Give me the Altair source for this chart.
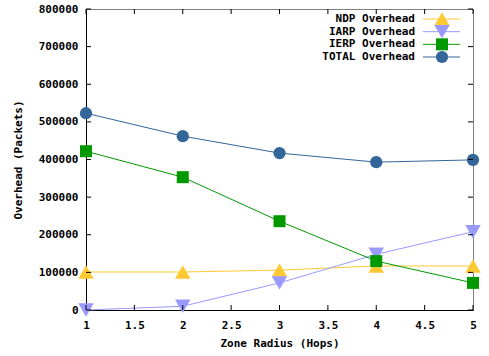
import altair as alt
import pandas as pd

radius = [1, 2, 3, 4, 5]
ndp = [101000, 101000, 106000, 117000, 117000]
iarp = [0, 10000, 72000, 148000, 208000]
ierp = [422000, 353000, 236000, 130000, 72000]
total = [523000, 462000, 417000, 393000, 399000]

series_names = ["NDP Overhead", "IARP Overhead", "IERP Overhead", "TOTAL Overhead"]
colors = ["#ffc933", "#9999ff", "#009900", "#336699"]
shapes = ["triangle-up", "triangle-down", "square", "circle"]
sizes = [240, 240, 144, 150]

x_ticks = [1, 1.5, 2, 2.5, 3, 3.5, 4, 4.5, 5]
y_ticks = [0, 100000, 200000, 300000, 400000, 500000, 600000, 700000, 800000]

W, H = 387, 301
FONT = "DejaVu Sans Mono"

rows = []
for name, vals in zip(series_names, [ndp, iarp, ierp, total]):
    for r, v in zip(radius, vals):
        rows.append({"series": name, "radius": r, "value": v})
df = pd.DataFrame(rows)
leg = pd.DataFrame({"series": series_names, "rank": list(range(len(series_names)))})
xt = pd.DataFrame({"xt": x_ticks})
yt = pd.DataFrame({"yt": y_ticks})

color = alt.Color("series:N", scale=alt.Scale(domain=series_names, range=colors), legend=None)
shape = alt.Shape("series:N", scale=alt.Scale(domain=series_names, range=shapes), legend=None)
size = alt.Size("series:N", scale=alt.Scale(type="ordinal", domain=series_names, range=sizes),
                legend=None)

xs = alt.Scale(domain=[1, 5], nice=False, zero=False)
ys = alt.Scale(domain=[0, 800000], nice=False)

xaxis = alt.Axis(values=x_ticks, format="~g", title="Zone Radius (Hops)", grid=False,
                 ticks=False, labelPadding=9, domainColor="#000000", domainWidth=1,
                 labelOverlap=False, labelFlush=False,
                 titleX=W / 2, titleY=33, titleBaseline="middle", titleAlign="center")
yaxis = alt.Axis(values=y_ticks, format="d", title="Overhead (Packets)", grid=False,
                 ticks=False, labelPadding=8, domainColor="#000000", domainWidth=1,
                 labelOverlap=False, labelFlush=False,
                 titleX=-68, titleY=H / 2, titleAngle=270, titleBaseline="middle",
                 titleAlign="center")

base = alt.Chart(df)
lines = base.mark_line(strokeWidth=1).encode(
    x=alt.X("radius:Q", scale=xs, axis=xaxis),
    y=alt.Y("value:Q", scale=ys, axis=yaxis),
    color=color,
)
points = base.mark_point(filled=True, opacity=1, strokeWidth=0).encode(
    x=alt.X("radius:Q", scale=xs, axis=xaxis),
    y=alt.Y("value:Q", scale=ys, axis=yaxis),
    color=color, shape=shape, size=size,
)

tick_col = "#000000"
left_t = alt.Chart(yt).mark_rule(color=tick_col).encode(
    y=alt.Y("yt:Q", scale=ys, axis=yaxis), x=alt.value(0), x2=alt.value(5))
right_t = alt.Chart(yt).mark_rule(color=tick_col).encode(
    y=alt.Y("yt:Q", scale=ys, axis=yaxis), x=alt.value(W - 5), x2=alt.value(W))
bot_t = alt.Chart(xt).mark_rule(color=tick_col).encode(
    x=alt.X("xt:Q", scale=xs, axis=xaxis), y=alt.value(H - 5), y2=alt.value(H))
top_t = alt.Chart(xt).mark_rule(color=tick_col).encode(
    x=alt.X("xt:Q", scale=xs, axis=xaxis), y=alt.value(0), y2=alt.value(5))

main = alt.layer(lines, points, left_t, right_t, bot_t, top_t)

ly = alt.Y("rank:O", scale=alt.Scale(type="point", range=[10, 48], padding=0), axis=None)
leg_text = alt.Chart(leg).mark_text(align="right", baseline="middle", font=FONT,
                                    fontWeight="bold", fontSize=11, color="#000000").encode(
    y=ly, x=alt.value(329), text="series:N")
leg_line = alt.Chart(leg).mark_rule(strokeWidth=1).encode(
    y=ly, x=alt.value(337), x2=alt.value(374), color=color)
leg_pt = alt.Chart(leg).mark_point(filled=True, opacity=1, strokeWidth=0).encode(
    y=ly, x=alt.value(356), color=color, shape=shape, size=size)
legend = alt.layer(leg_line, leg_pt, leg_text)

chart = alt.layer(main, legend).resolve_scale(y="independent").properties(
    width=W, height=H,
    autosize=alt.AutoSizeParams(type="none"),
    padding={"left": 86, "top": 9, "right": 16, "bottom": 46},
    background="#ffffff",
).configure_view(stroke="#808080", strokeWidth=1).configure_axis(
    labelFont=FONT, labelFontSize=11, labelFontWeight="bold", labelColor="#000000",
    titleFont=FONT, titleFontSize=11, titleFontWeight="bold", titleColor="#000000",
)

chart.save("out.html", embed_options={"renderer": "svg", "actions": False})
